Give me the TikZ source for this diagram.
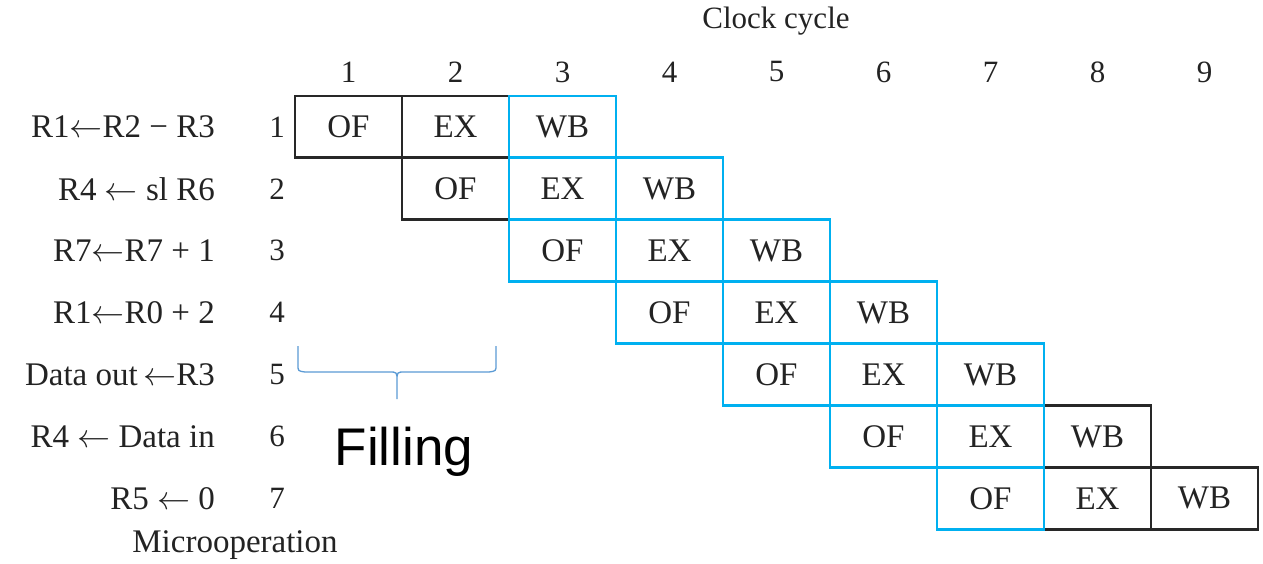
\documentclass[tikz,border=0pt]{standalone}
\usepackage{fix-cm}
\usepackage{fontspec}
\setmainfont{Liberation Serif}
\newfontfamily\fillfont{Liberation Sans}
\definecolor{ink}{RGB}{35,35,35}
\definecolor{edge}{RGB}{40,40,40}
\definecolor{stage}{RGB}{0,176,240}
\definecolor{bracecol}{RGB}{91,155,213}
\newcommand{\assignarrow}{\ensuremath{\leftarrow}}
\tikzset{
  serif/.style={text=ink,font=\fontsize{31}{35}\selectfont,inner sep=0pt},
  oplabel/.style={serif,font=\fontsize{33}{37}\selectfont},
  cell/.style={serif,font=\fontsize{33}{37}\selectfont,minimum width=107pt,minimum height=61.9pt,line width=2.8pt},
}
\begin{document}
\begin{tikzpicture}[x=1pt,y=-1pt]
\useasboundingbox (0,0) rectangle (1263,564);
\fill[white] (0,0) rectangle (1263,564);

% headings
\node[serif] (clock) at (776,21) {Clock cycle};
\node[oplabel] (microop) at (235,545) {Microoperation};

% clock cycle numbers
\foreach \c in {1,...,9}
  \node[serif] (col-\c) at ({295+107*(\c-0.5)},72) {\c};

% microoperations and their numbers
\foreach \r/\op in {1/R1\assignarrow R2 − R3, 2/R4 \assignarrow{} sl R6, 3/R7\assignarrow R7 + 1, 4/R1\assignarrow R0 + 2,
                    5/Data out\,\assignarrow R3, 6/R4 \assignarrow{} Data in, 7/R5 \assignarrow{} 0}{
  \node[oplabel,anchor=east] (op-\r) at (215,{96+61.9*(\r-0.5)}) {\op};
  \node[serif] (num-\r) at (277,{96+61.9*(\r-0.5)}) {\r};
}

% pipeline cells: outer columns in black first, middle columns in blue on top
\foreach \pass in {0,1}{
  \foreach \r in {1,...,7}{
    \foreach \s/\t in {0/OF,1/EX,2/WB}{
      \pgfmathtruncatemacro{\c}{\r+\s}
      \pgfmathtruncatemacro{\inner}{(\c>2)*(\c<8)}
      \ifnum\inner=\pass
        \ifnum\pass=0
          \node[cell,draw=edge] (cell-\r-\c) at ({295+107*(\c-0.5)},{96+61.9*(\r-0.5)}) {\t};
        \else
          \node[cell,draw=stage] (cell-\r-\c) at ({295+107*(\c-0.5)},{96+61.9*(\r-0.5)}) {\t};
        \fi
      \fi
    }
  }
}

% brace over the filling phase
\draw[bracecol,line width=1.3pt]
  (298,346) -- (298,365) .. controls (298,371) .. (305,372) -- (389,372)
  .. controls (397,372) .. (397,381) -- (397,399)
  (397,381) .. controls (397,372) .. (405,372) -- (489,372)
  .. controls (496,371) .. (496,365) -- (496,346);
\node[font=\fillfont\fontsize{53}{60}\selectfont,inner sep=0pt] (filling) at (404,452) {Filling};
\end{tikzpicture}
\end{document}
